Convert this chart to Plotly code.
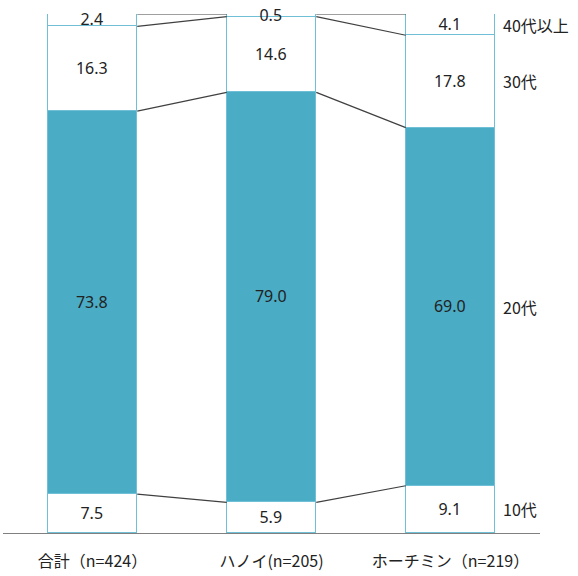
import numpy as np
import plotly.graph_objects as go

categories = ["合計（n=424）", "ハノイ(n=205)", "ホーチミン（n=219）"]
age_groups = ["10代", "20代", "30代", "40代以上"]
teens = [7.5, 5.9, 9.1]
twenties = [73.8, 79.0, 69.0]
thirties = [16.3, 14.6, 17.8]
forties_plus = [2.4, 0.5, 4.1]

series = [teens, twenties, thirties, forties_plus]
fills = ["#FFFFFF", "#4BACC6", "#FFFFFF", "#FFFFFF"]
edge = "#6FC0D6"
bar_w = 0.5
xs = np.arange(len(categories))

fig = go.Figure()
for name, vals, fill in zip(age_groups, series, fills):
    fig.add_trace(go.Bar(
        x=xs, y=vals, name=name, width=bar_w,
        marker=dict(color=fill, line=dict(color=edge, width=1.5)),
        text=[f"{v:.1f}" for v in vals], textposition="inside",
        insidetextanchor="middle", constraintext="none",
        textfont=dict(family="Noto Sans, sans-serif", size=16, color="#222222"),
        textangle=0, cliponaxis=False, hoverinfo="skip",
    ))

# connector lines between adjacent bars at each cumulative boundary
cum = np.cumsum(np.array(series), axis=0)
for level in cum:
    for i in range(len(categories) - 1):
        fig.add_trace(go.Scatter(
            x=[xs[i] + bar_w / 2, xs[i + 1] - bar_w / 2],
            y=[level[i], level[i + 1]],
            mode="lines", line=dict(color="#404040", width=1.2),
            showlegend=False, hoverinfo="skip",
        ))

# age labels beside the last bar, at its segment centres
last = [s[-1] for s in series]
centres = np.cumsum(last) - np.array(last) / 2
for name, c in zip(age_groups, centres):
    fig.add_annotation(
        x=xs[-1] + bar_w / 2, y=c, xref="x", yref="y", text=name,
        showarrow=False, xanchor="left", xshift=6,
        font=dict(family="Noto Sans CJK JP", size=16, color="#222222"),
    )

fig.update_layout(
    barmode="stack", width=578, height=576,
    margin=dict(l=3, r=38, t=14, b=43),
    paper_bgcolor="white", plot_bgcolor="white",
    showlegend=False, bargap=0, uniformtext=dict(minsize=16, mode="show"),
    xaxis=dict(
        range=[-0.5, 2.5], tickvals=list(xs), ticktext=categories,
        showline=True, linecolor="#808080", linewidth=1.2,
        showgrid=False, zeroline=False, ticks="", ticklabelstandoff=14,
        tickfont=dict(family="Noto Sans CJK JP", size=16, color="#222222"),
    ),
    yaxis=dict(range=[0, 100], visible=False, showgrid=False),
)

fig.write_html("out.html")
